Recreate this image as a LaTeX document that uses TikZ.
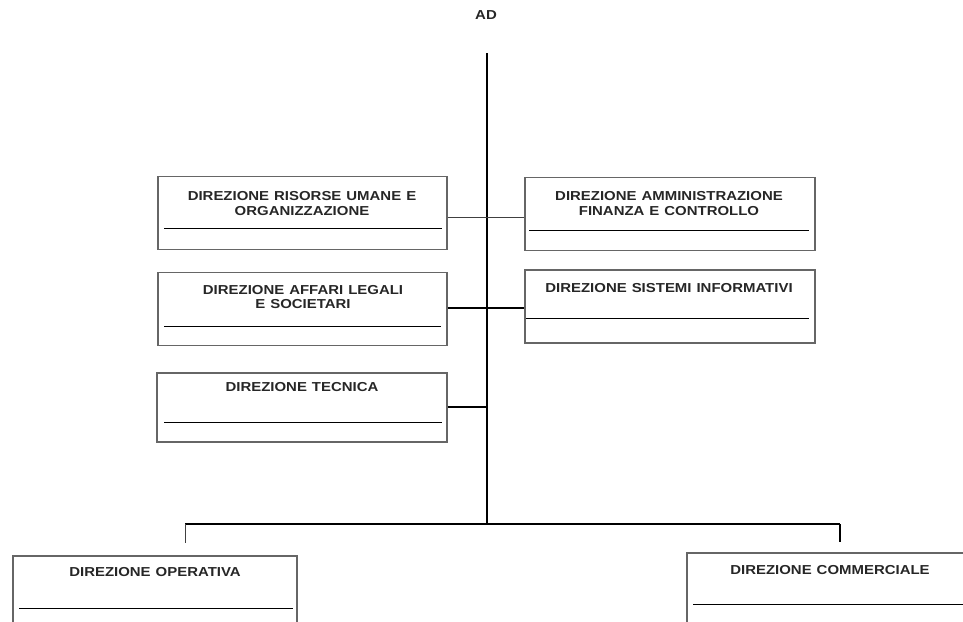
\documentclass[tikz,border=0pt]{standalone}
\usepackage{fontspec}
\setmainfont{Liberation Sans}[FakeStretch=1.15]
\usetikzlibrary{calc}
\newcommand{\orglblfont}{\fontsize{13}{14.5}\selectfont\bfseries\spaceskip=5pt plus 1pt\relax}
\begin{document}
\begin{tikzpicture}[x=1pt,y=-1pt,
  box/.style={draw=black!60, line width=1.4pt, inner sep=0pt, minimum width=289pt, minimum height=73pt},
  lbl/.style={font=\orglblfont, align=center, inner sep=0pt, text=black!85},
  uline/.style={line width=1.1pt},
  link/.style={line width=1.2pt},
  thinlink/.style={line width=0.9pt, black!75}]
\useasboundingbox (0,0) rectangle (963,621);
\clip (0,0) rectangle (963,621);

% top label
\node[lbl] (ad) at (486,15) {AD};

% boxes
\node[box] (ru) at (302.5,213) {};
\node[box, minimum width=290pt] (afc) at (670,214) {};
\node[box] (als) at (302.5,309) {};
\node[box, minimum width=290pt] (si) at (670,306.5) {};
\node[box, minimum width=290pt, minimum height=69pt] (tec) at (302,407.5) {};
\node[box, minimum width=284pt, minimum height=110pt] (op) at (155,611) {};
\node[box, minimum width=284pt, minimum height=110pt] (com) at (829,608) {};

% labels
\node[lbl] (rut) at (302,203.5) {DIREZIONE RISORSE UMANE E\\ORGANIZZAZIONE};
\node[lbl] (afct) at (669,203.5) {DIREZIONE AMMINISTRAZIONE\\FINANZA E CONTROLLO};
\node[lbl] (alst) at (303,297) {DIREZIONE AFFARI LEGALI\\E SOCIETARI};
\node[lbl] (sit) at (669,288) {DIREZIONE SISTEMI INFORMATIVI};
\node[lbl] (tect) at (302,387) {DIREZIONE TECNICA};
\node[lbl] (opt) at (155,572) {DIREZIONE OPERATIVA};
\node[lbl] (comt) at (830,570) {DIREZIONE COMMERCIALE};

% underlines
\draw[uline] ([shift={(7,-22)}]ru.south west) -- ([shift={(-6,-22)}]ru.south east);
\draw[uline] ([shift={(5,-21)}]afc.south west) -- ([shift={(-7,-21)}]afc.south east);
\draw[uline] ([shift={(7,-20)}]als.south west) -- ([shift={(-7,-20)}]als.south east);
\draw[uline] ([shift={(2,-25)}]si.south west) -- ([shift={(-7,-25)}]si.south east);
\draw[uline] ([shift={(8,-20)}]tec.south west) -- ([shift={(-6,-20)}]tec.south east);
\draw[uline] ([shift={(7,53)}]op.north west) -- ([shift={(-5,53)}]op.north east);
\draw[uline] ([shift={(7,52)}]com.north west) -- ([shift={(0,52)}]com.north east);

% trunk and connectors
\coordinate (top) at (487,53);
\coordinate (bot) at (487,524);
\coordinate (r1) at (487,217);
\coordinate (r2) at (487,308);
\coordinate (r3) at (487,407);
\coordinate (bl) at (185,524);
\coordinate (br) at (840,524);
\coordinate (bld) at (185,543);
\coordinate (brd) at (840,542);

\draw[link] (top) -- (bot);
\draw[thinlink] (ru.east |- r1) -- (afc.west |- r1);
\draw[link] (als.east |- r2) -- (si.west |- r2);
\draw[link] (tec.east |- r3) -- (r3);
\draw[link] (bl) -- (br);
\draw[thinlink] (bl) -- (bld);
\draw[link] (br) -- (brd);
\end{tikzpicture}
\end{document}
